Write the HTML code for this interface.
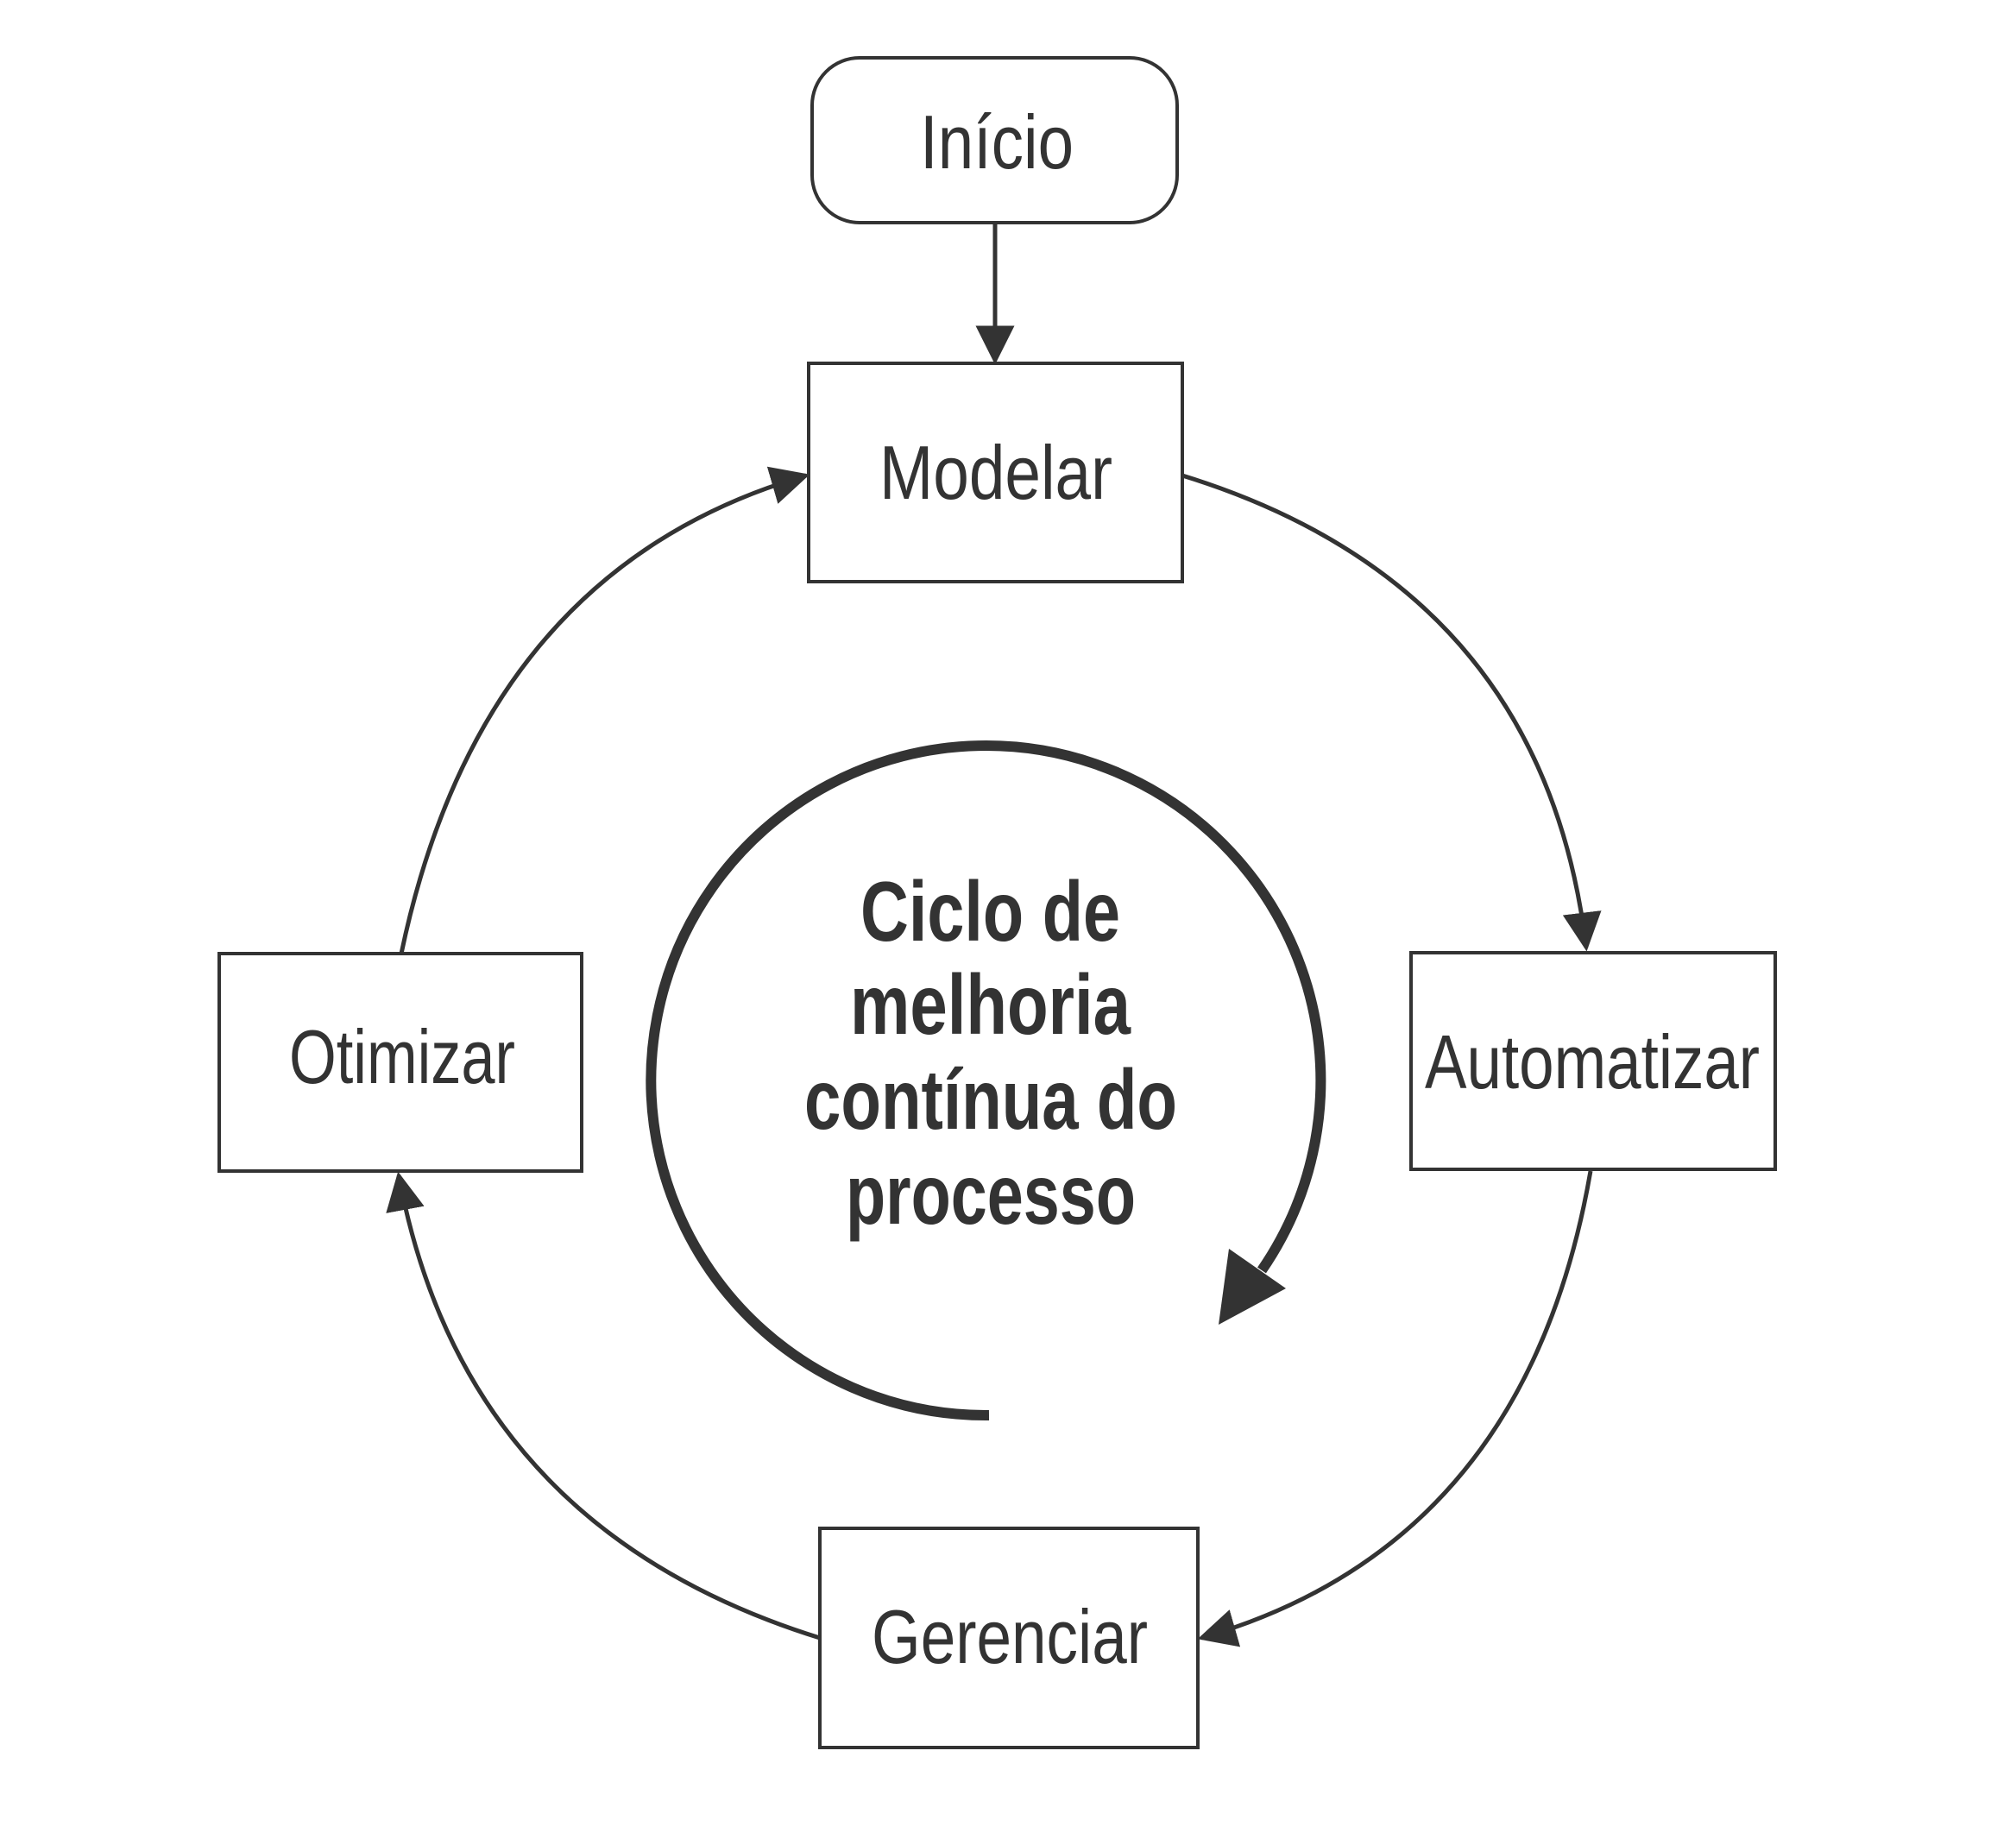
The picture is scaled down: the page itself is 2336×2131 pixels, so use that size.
<!DOCTYPE html>
<html><head><meta charset="utf-8"><style>html,body{margin:0;padding:0;background:#fff}svg{display:block}</style></head>
<body>
<svg width="2336" height="2131" viewBox="0 0 2336 2131" xmlns="http://www.w3.org/2000/svg">
<defs>
<marker id="a" viewBox="0 0 10 10" refX="9" refY="5" markerWidth="9" markerHeight="9" orient="auto"><path d="M0,0 L10,5 L0,10 z" fill="#333"/></marker>
</defs>
<g fill="none" stroke="#333" stroke-width="4">
<rect x="941" y="67" width="423" height="191" rx="55"/>
<rect x="937" y="421" width="433" height="253"/>
<rect x="254" y="1105" width="420" height="252"/>
<rect x="1635" y="1104" width="422" height="251"/>
<rect x="950" y="1771" width="438" height="254"/>
</g>
<g fill="none" stroke="#333" stroke-width="5" marker-end="url(#a)">
<path d="M1153,258 L1153,418"/>
<path d="M1370,551 Q1788,680 1838,1098"/>
<path d="M1843,1357 Q1768,1790 1392,1898"/>
<path d="M950,1898 Q538,1770 462,1362"/>
<path d="M465,1105 Q558,660 934,551"/>
</g>
<path d="M1146,1640 A388,388 0 1 1 1462,1472" fill="none" stroke="#333" stroke-width="12"/>
<polygon points="1424,1447 1490,1493 1412,1535" fill="#333"/>
<g font-family="Liberation Sans, sans-serif" fill="#333" font-size="88">
<text x="1066" y="195" textLength="178" lengthAdjust="spacingAndGlyphs">Início</text>
<text x="1019" y="578" textLength="270" lengthAdjust="spacingAndGlyphs">Modelar</text>
<text x="335" y="1255" textLength="262" lengthAdjust="spacingAndGlyphs">Otimizar</text>
<text x="1651" y="1261" textLength="388" lengthAdjust="spacingAndGlyphs">Automatizar</text>
<text x="1010" y="1927" textLength="320" lengthAdjust="spacingAndGlyphs">Gerenciar</text>
</g>
<g font-family="Liberation Sans, sans-serif" font-weight="bold" fill="#333" font-size="98">
<text x="997" y="1090" textLength="301" lengthAdjust="spacingAndGlyphs">Ciclo de</text>
<text x="985" y="1198" textLength="325" lengthAdjust="spacingAndGlyphs">melhoria</text>
<text x="932" y="1308" textLength="432" lengthAdjust="spacingAndGlyphs">contínua do</text>
<text x="980" y="1418" textLength="336" lengthAdjust="spacingAndGlyphs">processo</text>
</g>
</svg>
</body></html>
